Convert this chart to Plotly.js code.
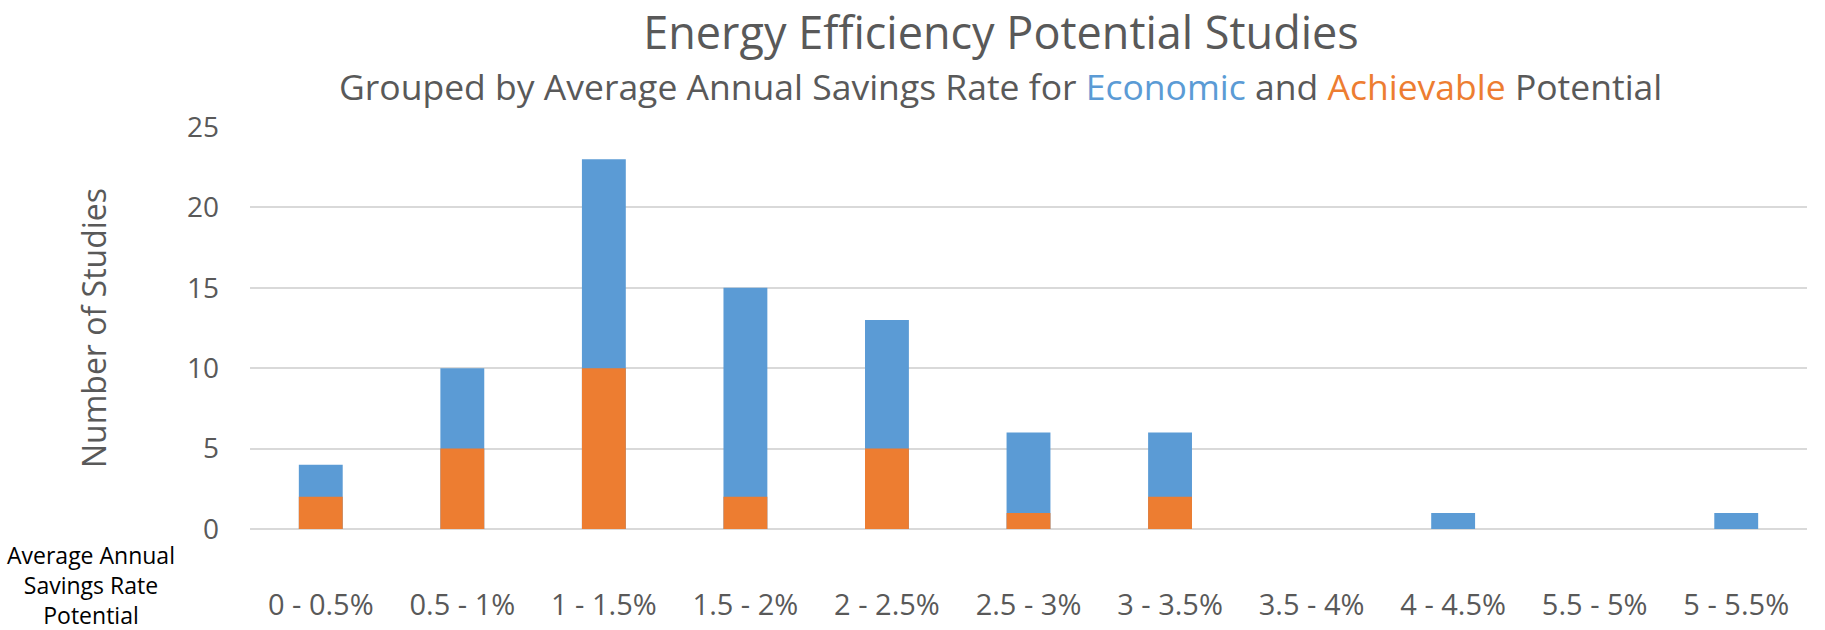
<!DOCTYPE html>
<html>
<head>
<meta charset="utf-8">
<script src="https://cdn.plot.ly/plotly-3.0.1.min.js"></script>
<style>
  html, body { margin: 0; padding: 0; background: #ffffff; }
  #chart { width: 1825px; height: 630px; }
</style>
</head>
<body>
<div id="chart"></div>
<script>
// ---- Data ----
const categories = ["0 - 0.5%", "0.5 - 1%", "1 - 1.5%", "1.5 - 2%", "2 - 2.5%", "2.5 - 3%", "3 - 3.5%", "3.5 - 4%", "4 - 4.5%", "5.5 - 5%", "5 - 5.5%"];
const economic   = [4, 10, 23, 15, 13, 6, 6, 0, 1, 0, 1];
const achievable = [2, 5, 10, 2, 5, 1, 2, 0, 0, 0, 0];
const yTicks = [0, 5, 10, 15, 20, 25];

const chartTitle = "Energy Efficiency Potential Studies";
const yTitle = "Number of Studies";
const xNote = "Average Annual<br>Savings Rate<br>Potential";

const blue = "#5b9bd5";
const orange = "#ed7d31";
const gray = "#595959";
const font = "'Open Sans', 'Noto Sans', sans-serif";

const traces = [
  { type: "bar", name: "Economic", x: categories, y: economic, marker: { color: blue }, hoverinfo: "x+y+name" },
  { type: "bar", name: "Achievable", x: categories, y: achievable, marker: { color: orange }, hoverinfo: "x+y+name" }
];

const layout = {
  width: 1825,
  height: 630,
  paper_bgcolor: "#ffffff",
  plot_bgcolor: "#ffffff",
  barmode: "overlay",
  bargap: 0.69,
  showlegend: false,
  margin: { l: 250, r: 18, t: 127, b: 101, pad: 0 },
  font: { family: font, color: gray },
  title: {
    text: chartTitle,
    font: { family: font, size: 45, color: gray },
    xref: "container", x: 0.5485, xanchor: "center",
    yref: "container", y: 0.948, yanchor: "middle"
  },
  xaxis: {
    type: "category",
    range: [-0.5, categories.length - 0.5],
    tickangle: 0,
    tickfont: { family: font, size: 29, color: gray },
    showgrid: false,
    showline: false,
    zeroline: false,
    ticks: "",
    ticklabelstandoff: 56,
    automargin: false
  },
  yaxis: {
    range: [0, 25],
    tickvals: yTicks,
    tickfont: { family: font, size: 28, color: gray },
    showgrid: true,
    gridcolor: "#d9d9d9",
    gridwidth: 2,
    zeroline: true,
    zerolinecolor: "#d9d9d9",
    zerolinewidth: 2,
    showline: false,
    ticks: "",
    ticklabelstandoff: 30,
    automargin: false,
    title: { text: yTitle, font: { family: font, size: 32, color: gray }, standoff: 70 }
  },
  annotations: [
    {
      text: "Grouped by Average Annual Savings Rate for <span style='color:" + blue + "'>Economic</span> and <span style='color:" + orange + "'>Achievable</span> Potential",
      xref: "paper", x: 0.4817, xanchor: "center",
      yref: "paper", y: 1.102, yanchor: "middle",
      showarrow: false,
      font: { family: font, size: 35.5, color: gray }
    },
    {
      text: xNote,
      xref: "paper", x: -0.1021, xanchor: "center",
      yref: "paper", y: -0.1393, yanchor: "middle",
      showarrow: false,
      align: "center",
      font: { family: font, size: 23, color: "#000000" }
    }
  ]
};

Plotly.newPlot("chart", traces, layout, { displayModeBar: false, staticPlot: true });
</script>
</body>
</html>
